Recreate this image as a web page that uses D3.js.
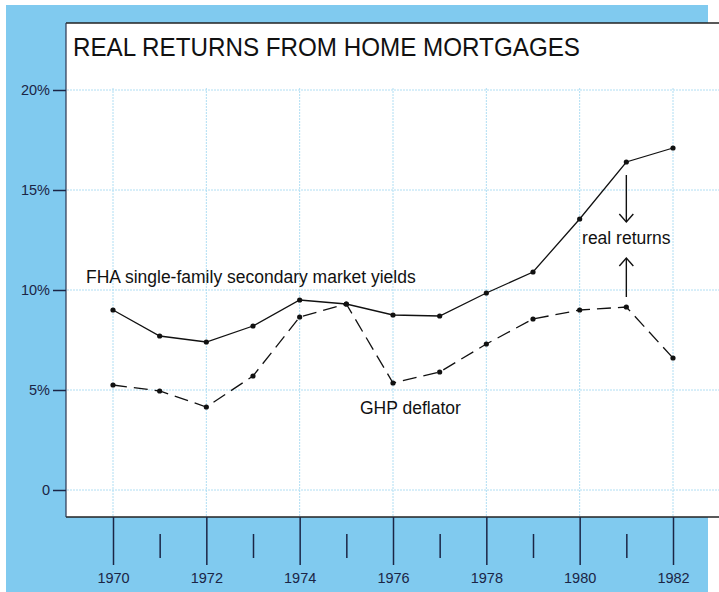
<!DOCTYPE html>
<html><head><meta charset="utf-8">
<script src="https://cdn.jsdelivr.net/npm/d3@7"></script>
<style>
html,body{margin:0;padding:0;background:#fff;}
svg{display:block;font-family:"Liberation Sans",Arial,Helvetica,sans-serif;}
</style></head>
<body>
<script>
const years = [1970,1971,1972,1973,1974,1975,1976,1977,1978,1979,1980,1981,1982];
const fhaYields = [9.0,7.7,7.4,8.2,9.5,9.3,8.75,8.7,9.85,10.9,13.55,16.4,17.1];
const ghpDeflator = [5.25,4.95,4.15,5.7,8.65,9.3,5.35,5.9,7.3,8.55,9.0,9.15,6.6];
const yTicks = [0,5,10,15,20];
const yTickLabels = ["0","5%","10%","15%","20%"];
const majorYears = [1970,1972,1974,1976,1978,1980,1982];
const minorYears = [1971,1973,1975,1977,1979,1981];
const title = "REAL RETURNS FROM HOME MORTGAGES";

const W = 719, H = 592;
const svg = d3.select("body").append("svg").attr("width",W).attr("height",H);

const blue = "#80caef";
const ink = "#1b2545";
svg.append("rect").attr("x",6).attr("y",5).attr("width",702).attr("height",H-5).attr("fill",blue);
// white panel
svg.append("rect").attr("x",66).attr("y",23).attr("width",W-66).attr("height",517-23).attr("fill","#fff");
svg.append("line").attr("x1",66).attr("x2",W).attr("y1",23).attr("y2",23).attr("stroke","#222").attr("stroke-width",1.5);
svg.append("line").attr("x1",66).attr("x2",W).attr("y1",517).attr("y2",517).attr("stroke","#222").attr("stroke-width",1.5);
svg.append("line").attr("x1",66).attr("x2",66).attr("y1",23).attr("y2",517).attr("stroke","#2a3550").attr("stroke-width",1.2);

const x = d3.scaleLinear().domain([1970,1982]).range([113,673]);
const y = d3.scaleLinear().domain([0,20]).range([490,90]);

// gridlines
const grid = svg.append("g").attr("stroke","#b0def3").attr("stroke-width",1).attr("stroke-dasharray","2,1");
grid.selectAll("line.h").data(yTicks).join("line").attr("class","h")
  .attr("x1",67).attr("x2",W).attr("y1",d=>y(d)).attr("y2",d=>y(d));
grid.selectAll("line.v").data(majorYears).join("line").attr("class","v")
  .attr("x1",d=>x(d)).attr("x2",d=>x(d)).attr("y1",y(20)-2).attr("y2",516);

// y axis
const yAxis = d3.axisLeft(y).tickValues(yTicks).tickSize(13).tickPadding(3)
  .tickFormat((d,i)=>yTickLabels[i]);
const ya = svg.append("g").attr("transform","translate(66,0)").call(yAxis);
ya.attr("font-size",null).attr("font-family",null);
ya.select(".domain").remove();
ya.selectAll(".tick line").attr("stroke",ink).attr("stroke-width",1.5);
ya.selectAll(".tick text").attr("fill",ink).style("font-size","14.5px");

// x axis major
const xAxis = d3.axisBottom(x).tickValues(majorYears).tickSize(48).tickPadding(8).tickFormat(d3.format("d"));
const xa = svg.append("g").attr("transform","translate(0,517)").call(xAxis);
xa.attr("font-size",null).attr("font-family",null);
xa.select(".domain").remove();
xa.selectAll(".tick line").attr("stroke",ink).attr("stroke-width",1.5);
xa.selectAll(".tick text").attr("fill",ink).style("font-size","14.5px");
// x axis minor
const xAxisMinor = d3.axisBottom(x).tickValues(minorYears).tickSize(24).tickFormat("");
const xm = svg.append("g").attr("transform","translate(0,534)").call(xAxisMinor);
xm.select(".domain").remove();
xm.selectAll(".tick line").attr("stroke",ink).attr("stroke-width",1.5);

// title
svg.append("text").attr("x",73).attr("y",56).style("font-size","26px").attr("fill","#111")
  .attr("textLength",507).attr("lengthAdjust","spacingAndGlyphs").text(title);

// lines
const fhaData = years.map((d,i)=>({year:d,v:fhaYields[i]}));
const ghpData = years.map((d,i)=>({year:d,v:ghpDeflator[i]}));
const line = d3.line().x(d=>x(d.year)).y(d=>y(d.v));
svg.append("path").datum(fhaData).attr("d",line).attr("fill","none").attr("stroke","#111").attr("stroke-width",1.3);
svg.append("path").datum(ghpData).attr("d",line).attr("fill","none").attr("stroke","#111").attr("stroke-width",1.3).attr("stroke-dasharray","14,7");
svg.append("g").selectAll("circle").data(fhaData.concat(ghpData)).join("circle")
  .attr("cx",d=>x(d.year)).attr("cy",d=>y(d.v)).attr("r",2.6).attr("fill","#111");

// labels
svg.append("text").attr("x",86).attr("y",283).style("font-size","17.5px").attr("fill","#111")
  .text("FHA single-family secondary market yields");
svg.append("text").attr("x",360).attr("y",414).style("font-size","17.5px").attr("fill","#111")
  .text("GHP deflator");
svg.append("text").attr("x",x(1981)).attr("y",244).attr("text-anchor","middle").style("font-size","17.5px").attr("fill","#111")
  .text("real returns");

// arrows
const arrowDown = {year:1981, from:15.75, to:13.4};
const arrowUp = {year:1981, from:9.65, to:11.6};
function arrow(a){
  const ax = x(a.year), y1 = y(a.from), y2 = y(a.to);
  const dir = Math.sign(y2-y1);
  const g = svg.append("g").attr("stroke","#111").attr("stroke-width",1.4).attr("fill","none");
  g.append("line").attr("x1",ax).attr("x2",ax).attr("y1",y1).attr("y2",y2);
  g.append("path").attr("d",`M${ax-7},${y2-dir*8}L${ax},${y2}L${ax+7},${y2-dir*8}`);
}
arrow(arrowDown); arrow(arrowUp);
</script>
</body></html>
